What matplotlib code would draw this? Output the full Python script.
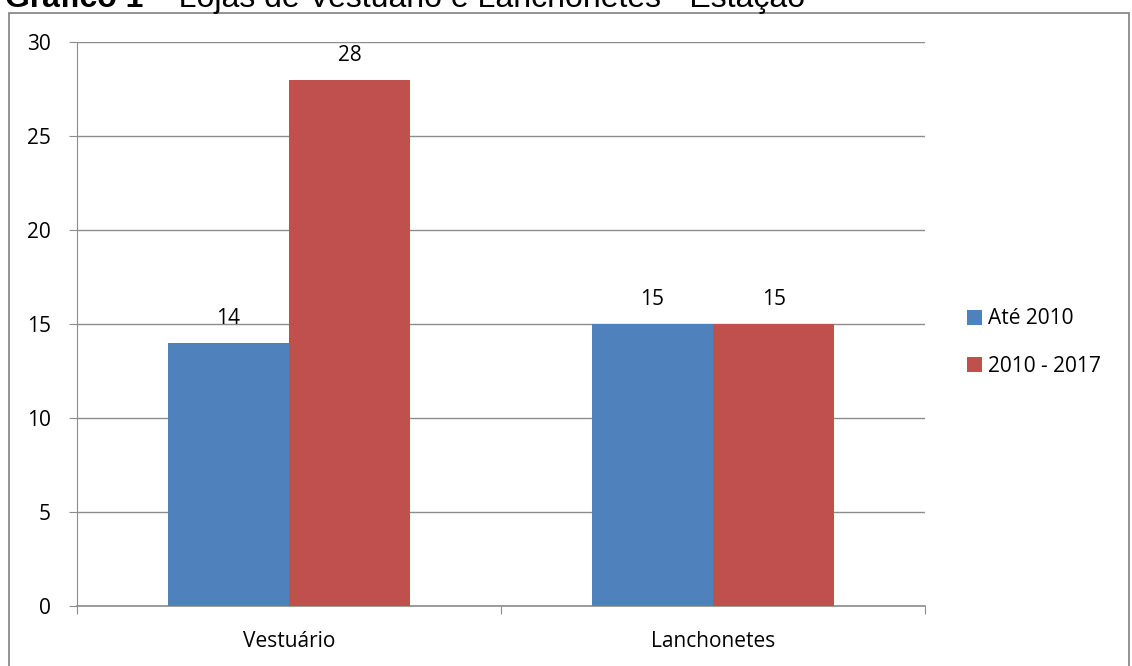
import matplotlib
matplotlib.use("Agg")
import matplotlib.pyplot as plt
from matplotlib.patches import Rectangle
import numpy as np

categories = ["Vestuário", "Lanchonetes"]
series_names = ["Até 2010", "2010 - 2017"]
ate_2010 = [14, 15]
de_2010_2017 = [28, 15]
yticks = [0, 5, 10, 15, 20, 25, 30]
colors = ["#4F81BD", "#C0504D"]

plt.rcParams['font.family'] = ['Open Sans', 'DejaVu Sans']

W, H = 1132, 666
fig = plt.figure(figsize=(W/100, H/100), dpi=100)

# outer frame
fig.patches.append(Rectangle((9/W, -0.1), (1129-9)/W, 1.1 - 13/H, transform=fig.transFigure,
                             fill=False, edgecolor="#808080", linewidth=1.2))

# title (partly clipped at top as in the reference)
base_y = 1 - 7/H
t1 = fig.text(5/W, base_y, "Gráfico 1", fontsize=23, fontweight="bold", family="Liberation Sans",
              va="baseline", ha="left")
fig.canvas.draw()
bb = t1.get_window_extent()
fig.text(bb.x1 / W, base_y, " – Lojas de Vestuário e Lanchonetes - Estação", fontsize=23,
         family="Liberation Sans", va="baseline", ha="left")

ax = fig.add_axes([77/W, 1 - 606/H, (925-77)/W, (606-42)/H])
x = np.arange(len(categories))
bw = 0.286
b1 = ax.bar(x - bw/2, ate_2010, bw, color=colors[0], label=series_names[0], zorder=3)
b2 = ax.bar(x + bw/2, de_2010_2017, bw, color=colors[1], label=series_names[1], zorder=3)
for bars, vals in ((b1, ate_2010), (b2, de_2010_2017)):
    for r, v in zip(bars, vals):
        ax.text(r.get_x() + r.get_width()/2, v + 1.0, str(v), ha="center", va="baseline",
                fontsize=15, zorder=4)

ax.set_xlim(-0.5, 1.5)
ax.set_ylim(0, 30)
ax.set_yticks(yticks)
ax.yaxis.grid(True, color="#8C8C8C", linewidth=1.0, zorder=0)
ax.set_xticks([-0.5, 0.5, 1.5], minor=False)
ax.set_xticklabels([])
ax.set_xticks(x, minor=True)
ax.set_xticklabels(categories, minor=True, fontsize=15)
ax.tick_params(axis="x", which="minor", length=0, pad=18)
ax.tick_params(axis="x", which="major", length=6, color="#8C8C8C", direction="out")
ax.tick_params(axis="y", length=6, color="#8C8C8C", labelsize=15, pad=13)
for s in ["top", "right"]:
    ax.spines[s].set_visible(False)
ax.spines["left"].set_color("#8C8C8C")
ax.spines["bottom"].set_color("#8C8C8C")
ax.spines["bottom"].set_linewidth(1.2)

leg = fig.legend(handles=[b1, b2], labels=series_names, loc="center left",
                 bbox_to_anchor=(967/W, 1 - 342.5/H), frameon=False,
                 fontsize=15, handlelength=0.72, handleheight=0.72, handletextpad=0.3,
                 labelspacing=1.25, borderpad=0, borderaxespad=0)

fig.savefig("out.png", dpi=100)
